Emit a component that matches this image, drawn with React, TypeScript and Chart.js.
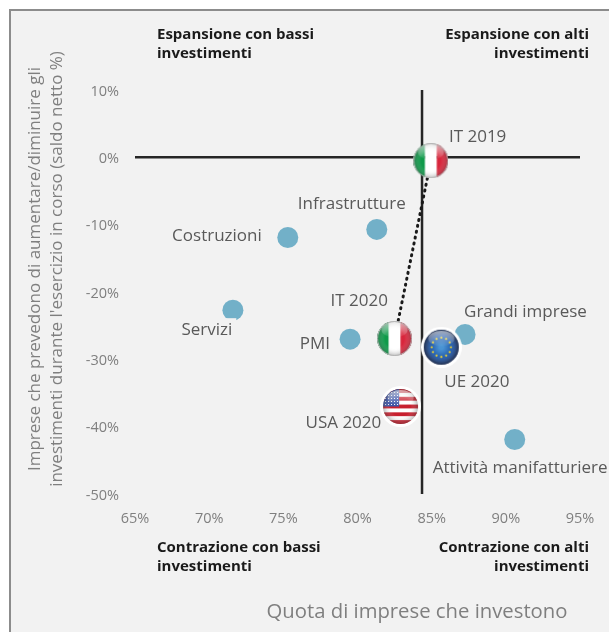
import React, { useEffect, useRef } from "react";
import { Chart, registerables } from "chart.js";

Chart.register(...registerables);

const FONT = '"Open Sans", "Noto Sans", sans-serif';

// Sector groups, share investing (%) against net balance (%)
const sectorLabels = ["Infrastrutture", "Costruzioni", "Servizi", "PMI", "Grandi imprese", "Attività manifatturiere"];
const sectorX = [81.3, 75.3, 71.6, 79.5, 87.25, 90.6];
const sectorY = [-10.7, -11.9, -22.7, -27, -26.3, -41.9];

// Countries and years, drawn as flags
const flagLabels = ["IT 2019", "IT 2020", "UE 2020", "USA 2020"];
const flagKinds = ["it", "it", "eu", "us"];
const flagX = [84.95, 82.5, 85.65, 82.9];
const flagY = [-0.5, -26.9, -28.2, -37];

// Dotted path from 2019 to 2020 and the quadrant dividers
const pathX = [84.95, 82.5];
const pathY = [-0.5, -26.9];
const dividerX = 84.35;
const dividerY = 0;

const xTicks = [65, 70, 75, 80, 85, 90, 95];
const yTicks = [10, 0, -10, -20, -30, -40, -50];

const xTitle = "Quota di imprese che investono";
const yTitle = ["Imprese che prevedono di aumentare/diminuire gli", "investimenti durante l'esercizio in corso (saldo netto %)"];

// Text offsets relative to each mark
const labelOffsets: Record<string, [number, number, CanvasTextAlign]> = {
  Infrastrutture: [-25, -25, "center"],
  Costruzioni: [-26, -1, "right"],
  Servizi: [-26, 20, "center"],
  PMI: [-20, 5, "right"],
  "Grandi imprese": [-1, -22, "left"],
  "Attività manifatturiere": [-82, 29, "left"],
  "IT 2019": [18, -24, "left"],
  "IT 2020": [-64, -37, "left"],
  "UE 2020": [3, 35, "left"],
  "USA 2020": [-95, 17, "left"],
};

// Caption positions in canvas space
const quadrants: { lines: string[]; x: number; y: number; align: CanvasTextAlign }[] = [
  { lines: ["Espansione con bassi", "investimenti"], x: 147, y: 25, align: "left" },
  { lines: ["Espansione con alti", "investimenti"], x: 579, y: 25, align: "right" },
  { lines: ["Contrazione con bassi", "investimenti"], x: 147, y: 538, align: "left" },
  { lines: ["Contrazione con alti", "investimenti"], x: 579, y: 538, align: "right" },
];

function drawStripes(g: CanvasRenderingContext2D, kind: string, r: number) {
  const d = r * 2;
  if (kind === "it") {
    g.fillStyle = "#0f9a4a";
    g.fillRect(0, 0, d / 3, d);
    g.fillStyle = "#ffffff";
    g.fillRect(d / 3, 0, d / 3, d);
    g.fillStyle = "#d8263c";
    g.fillRect((2 * d) / 3, 0, d / 3, d);
  } else if (kind === "us") {
    for (let i = 0; i < 9; i++) {
      g.fillStyle = i % 2 === 0 ? "#c8202f" : "#ffffff";
      g.fillRect(0, (i * d) / 9, d, d / 9 + 0.5);
    }
    g.fillStyle = "#3c55a8";
    g.fillRect(0, 0, d * 0.46, d * 0.5);
    g.fillStyle = "#ffffff";
    for (let a = 0; a < 5; a++) {
      for (let b = 0; b < 5; b++) {
        g.fillRect(2 + a * 3, 3 + b * 3, 1, 1);
      }
    }
  } else {
    const blue = g.createRadialGradient(r, r, 2, r, r, r);
    blue.addColorStop(0, "#4a94d4");
    blue.addColorStop(0.6, "#2058a8");
    blue.addColorStop(1, "#0f2658");
    g.fillStyle = blue;
    g.fillRect(0, 0, d, d);
    g.fillStyle = "#f2d32c";
    for (let i = 0; i < 12; i++) {
      const a = (i * Math.PI) / 6;
      g.beginPath();
      g.arc(r + Math.cos(a) * r * 0.55, r + Math.sin(a) * r * 0.55, 1.1, 0, Math.PI * 2);
      g.fill();
    }
  }
}

// Glossy round flag used as a point style
function makeFlag(kind: string): HTMLCanvasElement {
  const r = 17.5;
  const ring = kind === "it" ? 0 : 3;
  const size = Math.ceil((r + ring) * 2);
  const c = document.createElement("canvas");
  c.width = size;
  c.height = size;
  const g = c.getContext("2d")!;
  const mid = size / 2;
  if (ring) {
    g.fillStyle = "#ffffff";
    g.beginPath();
    g.arc(mid, mid, mid, 0, Math.PI * 2);
    g.fill();
  }
  g.save();
  g.translate(mid - r, mid - r);
  g.beginPath();
  g.arc(r, r, r, 0, Math.PI * 2);
  g.clip();
  drawStripes(g, kind, r);
  const shade = g.createRadialGradient(r, r, r * 0.55, r, r, r);
  shade.addColorStop(0, "rgba(255,255,255,0)");
  shade.addColorStop(1, "rgba(60,60,60,0.35)");
  g.fillStyle = shade;
  g.fillRect(0, 0, r * 2, r * 2);
  const gloss = g.createLinearGradient(0, 0, 0, r);
  gloss.addColorStop(0, "rgba(255,255,255,0.6)");
  gloss.addColorStop(1, "rgba(255,255,255,0)");
  g.fillStyle = gloss;
  g.beginPath();
  g.ellipse(r, r * 0.5, r * 0.75, r * 0.45, 0, 0, Math.PI * 2);
  g.fill();
  g.restore();
  if (kind === "it") {
    g.strokeStyle = "#b5b5b5";
    g.lineWidth = 1;
    g.beginPath();
    g.arc(mid, mid, r - 0.5, 0, Math.PI * 2);
    g.stroke();
  }
  return c;
}

// Point labels, axis titles and the quadrant captions
const annotations = {
  id: "annotations",
  afterDatasetsDraw(chart: Chart) {
    const { ctx, scales } = chart;
    ctx.save();
    ctx.font = `17px ${FONT}`;
    ctx.textBaseline = "middle";
    const put = (name: string, x: number, y: number) => {
      const [dx, dy, align] = labelOffsets[name];
      const px = scales.x.getPixelForValue(x) + dx;
      const py = scales.y.getPixelForValue(y) + dy;
      ctx.textAlign = align;
      // The "Servizi" label sits on an opaque box that covers part of its dot
      if (name === "Servizi") {
        const w = ctx.measureText(name).width;
        ctx.fillStyle = "#f2f2f2";
        ctx.fillRect(px - w / 2 - 4, py - 12, w + 8, 24);
      }
      ctx.fillStyle = "#595959";
      ctx.fillText(name, px, py);
    };
    sectorLabels.forEach((n, i) => put(n, sectorX[i], sectorY[i]));
    flagLabels.forEach((n, i) => put(n, flagX[i], flagY[i]));

    ctx.font = `bold 15px ${FONT}`;
    ctx.fillStyle = "#1a1a1a";
    quadrants.forEach((q) => {
      ctx.textAlign = q.align;
      q.lines.forEach((line, i) => ctx.fillText(line, q.x, q.y + i * 19));
    });

    ctx.fillStyle = "#7f7f7f";
    ctx.textAlign = "center";
    ctx.font = `20.3px ${FONT}`;
    ctx.fillText(xTitle, 407, 602);
    ctx.font = `17px ${FONT}`;
    ctx.translate(25, 259);
    ctx.rotate(-Math.PI / 2);
    yTitle.forEach((line, i) => ctx.fillText(line, 0, i * 22));
    ctx.restore();
  },
};

export default function App() {
  const ref = useRef<HTMLCanvasElement>(null);

  useEffect(() => {
    const chart = new Chart(ref.current!, {
      type: "scatter",
      data: {
        datasets: [
          {
            type: "line",
            data: [{ x: 65, y: dividerY }, { x: 95, y: dividerY }],
            borderColor: "#262626",
            borderWidth: 2.5,
            pointRadius: 0,
            order: 5,
          },
          {
            type: "line",
            data: [{ x: dividerX, y: 10 }, { x: dividerX, y: -50 }],
            borderColor: "#262626",
            borderWidth: 2.5,
            pointRadius: 0,
            order: 5,
          },
          {
            type: "line",
            data: pathX.map((x, i) => ({ x, y: pathY[i] })),
            borderColor: "#1a1a1a",
            borderWidth: 3,
            borderDash: [1, 5],
            borderCapStyle: "round",
            pointRadius: 0,
            order: 4,
          },
          {
            data: sectorX.map((x, i) => ({ x, y: sectorY[i] })),
            backgroundColor: "#72b0c8",
            borderWidth: 0,
            pointRadius: 10.5,
            order: 3,
          },
          {
            data: flagX.map((x, i) => ({ x, y: flagY[i] })),
            pointStyle: flagKinds.map(makeFlag),
            order: 1,
          },
        ],
      } as any,
      options: {
        responsive: false,
        animation: false,
        clip: false,
        layout: { padding: { top: 80, right: 28, left: 0, bottom: 0 } },
        plugins: { legend: { display: false }, tooltip: { enabled: false } },
        scales: {
          x: {
            type: "linear",
            min: 65,
            max: 95,
            afterBuildTicks: (s: any) => {
              s.ticks = xTicks.map((value) => ({ value }));
            },
            grid: { display: false },
            border: { display: false },
            ticks: {
              color: "#7f7f7f",
              font: { family: FONT, size: 14.5 },
              padding: 8,
              maxRotation: 0,
              callback: (v: any) => `${v}%`,
            },
            afterFit: (s: any) => {
              s.height = 137;
            },
          },
          y: {
            type: "linear",
            min: -50,
            max: 10,
            afterBuildTicks: (s: any) => {
              s.ticks = yTicks.map((value) => ({ value }));
            },
            grid: { display: false },
            border: { display: false },
            ticks: {
              color: "#7f7f7f",
              font: { family: FONT, size: 14.5 },
              padding: 8,
              labelOffset: 1.5,
              callback: (v: any) => `${v}%`,
            },
            afterFit: (s: any) => {
              s.width = 125;
            },
          },
        },
      },
      plugins: [annotations],
    } as any);
    return () => chart.destroy();
  }, []);

  return (
    <div
      style={{
        position: "absolute",
        left: 9,
        top: 9,
        width: 600,
        height: 623,
        boxSizing: "border-box",
        background: "#f2f2f2",
        borderLeft: "2px solid #8c8c8c",
        borderTop: "2px solid #8c8c8c",
      }}
    >
      <canvas ref={ref} width={598} height={621} style={{ display: "block", position: "absolute", left: -1, top: -1 }} />
    </div>
  );
}
